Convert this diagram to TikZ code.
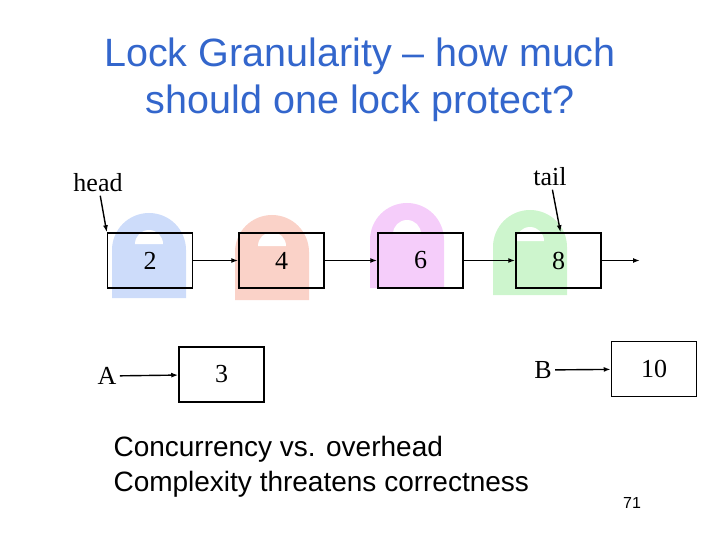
\documentclass[tikz,border=0pt]{standalone}
\usepackage{fontspec}
\setmainfont{Liberation Serif}
\newfontfamily\arial{Liberation Sans}
\usetikzlibrary{positioning, arrows.meta}
\definecolor{titleblue}{RGB}{51,102,204}
\definecolor{lockblue}{RGB}{205,220,250}
\definecolor{lockred}{RGB}{250,210,200}
\definecolor{lockpink}{RGB}{245,205,250}
\definecolor{lockgreen}{RGB}{205,245,205}
\newcommand{\padlock}[4]{% x, y of shackle centre, top y, colour
  \fill[#4] (#1-37,#2) arc[start angle=180,end angle=360,radius=37] -- (#1+37,#2+48) -- (#1-37,#2+48) -- cycle;
  \fill[white] (#1-14,#2-6) arc[start angle=180,end angle=360,radius=14] -- cycle;}
\begin{document}
\begin{tikzpicture}[x=1pt, y=-1pt]

  \tikzstyle{cell}=[draw, line width=1.5pt, minimum width=85pt, minimum height=55pt, inner sep=0pt, font=\fontsize{26}{28}\selectfont]
  \tikzstyle{label}=[font=\fontsize{26}{28}\selectfont]
  \tikzstyle{link}=[-{Latex[length=7pt,width=5pt]}, line width=1.4pt]

  \useasboundingbox (0,0) rectangle (720,540);

  \node[text=titleblue, align=center, font=\arial\fontsize{39.5}{47}\selectfont] (title) at (360,80) {Lock Granularity – how much\\should one lock protect?};

  \padlock{149}{250}{213}{lockblue}
  \padlock{272}{252}{215}{lockred}
  \padlock{407}{240}{203}{lockpink}
  \padlock{530}{247}{210}{lockgreen}

  \node[cell] (n2) at (150,260.5) {2};
  \node[cell] (n4) at (281.5,260.5) {4};
  \node[cell] (n6) at (420.5,260.5) {6};
  \node[cell] (n8) at (558.5,260.5) {8};
  \coordinate (end) at (640,260.5);

  \node[cell] (n3) at (221.5,374.5) {3};
  \node[cell] (n10) at (654,369) {10};

  \node[label] (head) at (98,183) {head};
  \node[label] (tail) at (550,177) {tail};
  \node[label] (A) at (107,376) {A};
  \node[label] (B) at (543,370) {B};

  \draw[link] (head) -- (n2.north west);
  \draw[link] (tail) -- ([xshift=2pt]n8.north);
  \draw[link] (n2) -- (n4);
  \draw[link] (n4) -- (n6);
  \draw[link] (n6) -- (n8);
  \draw[link] (n8) -- (end);
  \draw[link] (A) -- (n3);
  \draw[link] (B) -- (n10);

  \node[anchor=north west, align=left, font=\arial\fontsize{28}{35}\selectfont] (notes) at (110,433) {Concurrency vs. overhead\\Complexity threatens correctness};
  \node[font=\arial\fontsize{16}{18}\selectfont] (page) at (632,503) {71};

\end{tikzpicture}
\end{document}
